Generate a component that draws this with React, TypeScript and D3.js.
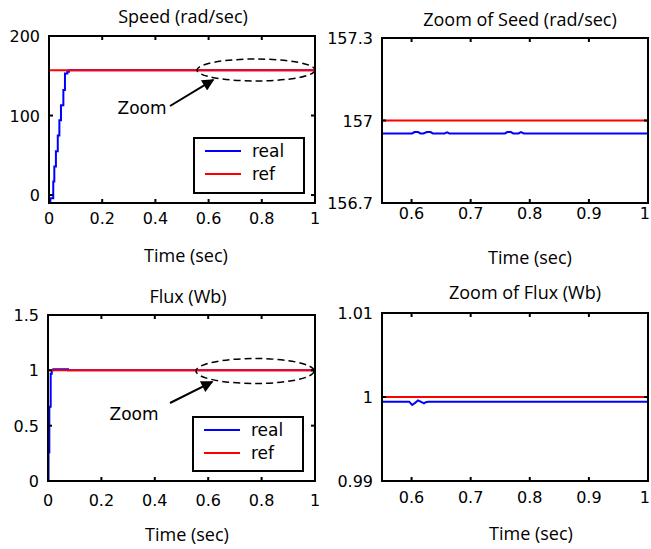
import React, { useEffect, useRef } from 'react';
import * as d3 from 'd3';

// speed (rad/sec), full run
const speedTime = [0, 0.005, 0.016, 0.02, 0.026, 0.033, 0.039, 0.045, 0.054, 0.06, 0.069, 0.075, 1];
const speedReal = [-8, -4, 17, 36, 55, 75, 94, 113, 132, 153, 155, 157, 157];
const speedRefTime = [0, 1];
const speedRef = [157, 157];

// speed, zoomed window
const zoomSpeedTime = [0.55, 0.601, 0.605, 0.611, 0.615, 0.62, 0.626, 0.632, 0.636, 0.656, 0.66, 0.664, 0.745, 0.758, 0.762, 0.768, 0.772, 0.781, 0.785, 0.79, 1];
const zoomSpeedReal = [156.953, 156.953, 156.958, 156.958, 156.953, 156.953, 156.958, 156.958, 156.953, 156.953, 156.957, 156.953, 156.953, 156.953, 156.958, 156.958, 156.953, 156.953, 156.958, 156.953, 156.953];
const zoomSpeedRefTime = [0.55, 1];
const zoomSpeedRef = [157, 157];

// flux (Wb), full run
const fluxTime = [0, 0.002, 0.005, 0.01, 0.014, 0.02, 0.075, 1];
const fluxReal = [0, 0.26, 0.67, 0.97, 1.0, 1.01, 1.0, 1.0];
const fluxRefTime = [0, 1];
const fluxRef = [1, 1];

// flux, zoomed window
const zoomFluxTime = [0.55, 0.596, 0.601, 0.606, 0.611, 0.617, 0.621, 0.624, 0.628, 1];
const zoomFluxReal = [0.99944, 0.99944, 0.99905, 0.9993, 0.9996, 0.9994, 0.99925, 0.99938, 0.99944, 0.99944];
const zoomFluxRefTime = [0.55, 1];
const zoomFluxRef = [1, 1];

const fullTicks = [0, 0.2, 0.4, 0.6, 0.8, 1];
const zoomTicks = [0.6, 0.7, 0.8, 0.9, 1];
const speedTicks = [0, 100, 200];
const zoomSpeedTicks = [156.7, 157, 157.3];
const fluxTicks = [0, 0.5, 1, 1.5];
const zoomFluxTicks = [0.99, 1, 1.01];

const legendLabels = ['real', 'ref'];
const BLUE = '#0000ff';
const RED = '#ff0000';
const TICK_FONT = '"DejaVu Sans", sans-serif';
const TITLE_FONT = '"Open Sans", sans-serif';
const W = 651;
const H = 549;

type PanelCfg = {
  left: number; top: number; width: number; height: number;
  xDomain: [number, number]; yDomain: [number, number];
  xTicks: number[]; yTicks: number[];
  title: string; titleX: number; titleY: number;
  xlabelX: number; xlabelY: number; tickLabelY: number;
  real: [number[], number[]]; ref: [number[], number[]];
  step: boolean;
  legend?: { x: number; y: number; w: number; h: number };
  zoomMark?: { cx: number; cy: number; rx: number; ry: number; ax: number; ay: number; tx: number; ty: number };
};

const panels: PanelCfg[] = [
  {
    left: 49, top: 36, width: 266, height: 167,
    xDomain: [0, 1], yDomain: [-10, 200], xTicks: fullTicks, yTicks: speedTicks,
    title: 'Speed (rad/sec)', titleX: 183, titleY: 23,
    xlabelX: 186, xlabelY: 262, tickLabelY: 224,
    real: [speedTime, speedReal], ref: [speedRefTime, speedRef], step: true,
    legend: { x: 194, y: 138, w: 110, h: 55 },
    zoomMark: { cx: 256, cy: 70, rx: 59, ry: 11, ax: 170, ay: 106, tx: 142, ty: 114 },
  },
  {
    left: 382, top: 38, width: 266, height: 165,
    xDomain: [0.55, 1], yDomain: [156.7, 157.3], xTicks: zoomTicks, yTicks: zoomSpeedTicks,
    title: 'Zoom of Seed (rad/sec)', titleX: 520, titleY: 26,
    xlabelX: 530, xlabelY: 264, tickLabelY: 219,
    real: [zoomSpeedTime, zoomSpeedReal], ref: [zoomSpeedRefTime, zoomSpeedRef], step: false,
  },
  {
    left: 48, top: 315, width: 267, height: 166,
    xDomain: [0, 1], yDomain: [0, 1.5], xTicks: fullTicks, yTicks: fluxTicks,
    title: 'Flux (Wb)', titleX: 188, titleY: 303,
    xlabelX: 187, xlabelY: 541, tickLabelY: 506,
    real: [fluxTime, fluxReal], ref: [fluxRefTime, fluxRef], step: true,
    legend: { x: 193, y: 417, w: 110, h: 54 },
    zoomMark: { cx: 255, cy: 371, rx: 59, ry: 12.5, ax: 170, ay: 403, tx: 134, ty: 420 },
  },
  {
    left: 382, top: 313, width: 266, height: 168,
    xDomain: [0.55, 1], yDomain: [0.99, 1.01], xTicks: zoomTicks, yTicks: zoomFluxTicks,
    title: 'Zoom of Flux (Wb)', titleX: 525, titleY: 299,
    xlabelX: 531, xlabelY: 540, tickLabelY: 503,
    real: [zoomFluxTime, zoomFluxReal], ref: [zoomFluxRefTime, zoomFluxRef], step: false,
  },
];

const fmt = (v: number) => String(+v.toFixed(3));

const App = () => {
  const ref = useRef<SVGSVGElement>(null);

  useEffect(() => {
    const svg = d3.select(ref.current);
    svg.selectAll('*').remove();

    svg.append('defs').append('marker')
      .attr('id', 'arrowhead')
      .attr('viewBox', '0 0 10 10')
      .attr('refX', 9).attr('refY', 5)
      .attr('markerWidth', 7).attr('markerHeight', 6)
      .attr('markerUnits', 'strokeWidth')
      .attr('orient', 'auto')
      .append('path').attr('d', 'M0,0 L10,5 L0,10 Z').attr('fill', '#000');

    panels.forEach((p, i) => {
      const x = d3.scaleLinear().domain(p.xDomain).range([p.left, p.left + p.width]);
      const y = d3.scaleLinear().domain(p.yDomain).range([p.top + p.height, p.top]);
      const g = svg.append('g');

      const clipId = `clip-${i}`;
      g.append('clipPath').attr('id', clipId)
        .append('rect').attr('x', p.left).attr('y', p.top).attr('width', p.width).attr('height', p.height);

      // data lines
      const line = d3.line<[number, number]>()
        .x((d) => x(d[0])).y((d) => y(d[1]))
        .curve(p.step ? d3.curveStepAfter : d3.curveLinear);
      const realPts = p.real[0].map((t, k) => [t, p.real[1][k]] as [number, number]);
      const refPts = p.ref[0].map((t, k) => [t, p.ref[1][k]] as [number, number]);
      const lines = g.append('g').attr('clip-path', `url(#${clipId})`);
      lines.append('path').attr('d', line(realPts)).attr('fill', 'none').attr('stroke', BLUE).attr('stroke-width', 2);
      lines.append('path').attr('d', line(refPts)).attr('fill', 'none').attr('stroke', RED).attr('stroke-width', 2);

      // box
      g.append('rect').attr('x', p.left).attr('y', p.top).attr('width', p.width).attr('height', p.height)
        .attr('fill', 'none').attr('stroke', '#000').attr('stroke-width', 2);

      // inward ticks on all sides
      const tl = 4;
      p.xTicks.forEach((t) => {
        const xx = x(t);
        g.append('line').attr('x1', xx).attr('x2', xx).attr('y1', p.top + p.height).attr('y2', p.top + p.height - tl)
          .attr('stroke', '#000').attr('stroke-width', 2);
        g.append('line').attr('x1', xx).attr('x2', xx).attr('y1', p.top).attr('y2', p.top + tl)
          .attr('stroke', '#000').attr('stroke-width', 2);
        // keep the last label inside the page edge
        const atEdge = xx + 6 > W;
        g.append('text').attr('x', atEdge ? W - 1 : xx).attr('y', p.tickLabelY)
          .attr('text-anchor', atEdge ? 'end' : 'middle')
          .attr('font-family', TICK_FONT).attr('font-size', 16).text(fmt(t));
      });
      p.yTicks.forEach((t) => {
        const yy = y(t);
        g.append('line').attr('x1', p.left).attr('x2', p.left + tl).attr('y1', yy).attr('y2', yy)
          .attr('stroke', '#000').attr('stroke-width', 2);
        g.append('line').attr('x1', p.left + p.width).attr('x2', p.left + p.width - tl).attr('y1', yy).attr('y2', yy)
          .attr('stroke', '#000').attr('stroke-width', 2);
        g.append('text').attr('x', p.left - 9).attr('y', yy + 6).attr('text-anchor', 'end')
          .attr('font-family', TICK_FONT).attr('font-size', 16).text(fmt(t));
      });

      // title and x label
      g.append('text').attr('x', p.titleX).attr('y', p.titleY).attr('text-anchor', 'middle')
        .attr('font-family', TITLE_FONT).attr('font-size', 18).text(p.title);
      g.append('text').attr('x', p.xlabelX).attr('y', p.xlabelY).attr('text-anchor', 'middle')
        .attr('font-family', TITLE_FONT).attr('font-size', 18).text('Time (sec)');

      // legend
      if (p.legend) {
        const L = p.legend;
        g.append('rect').attr('x', L.x).attr('y', L.y).attr('width', L.w).attr('height', L.h)
          .attr('fill', '#fff').attr('stroke', '#000').attr('stroke-width', 2);
        legendLabels.forEach((lab, k) => {
          const ly = L.y + 13 + k * 23;
          g.append('line').attr('x1', L.x + 11).attr('x2', L.x + 47).attr('y1', ly).attr('y2', ly)
            .attr('stroke', k === 0 ? BLUE : RED).attr('stroke-width', 2);
          g.append('text').attr('x', L.x + 58).attr('y', ly + 6)
            .attr('font-family', TICK_FONT).attr('font-size', 17).text(lab);
        });
      }

      // zoom marker
      if (p.zoomMark) {
        const z = p.zoomMark;
        g.append('ellipse').attr('cx', z.cx).attr('cy', z.cy).attr('rx', z.rx).attr('ry', z.ry)
          .attr('fill', 'none').attr('stroke', '#000').attr('stroke-width', 1.5).attr('stroke-dasharray', '7,4');
        const ex = z.cx - z.rx * Math.cos(Math.PI / 4) - 1;
        const ey = z.cy + z.ry * Math.sin(Math.PI / 4) + 2;
        g.append('line').attr('x1', z.ax).attr('y1', z.ay).attr('x2', ex).attr('y2', ey)
          .attr('stroke', '#000').attr('stroke-width', 2).attr('marker-end', 'url(#arrowhead)');
        g.append('text').attr('x', z.tx).attr('y', z.ty).attr('text-anchor', 'middle')
          .attr('font-family', TICK_FONT).attr('font-size', 17).text('Zoom');
      }
    });
  }, []);

  return (
    <svg ref={ref} width={W} height={H}
      style={{ position: 'absolute', left: 0, top: 0, background: '#fff' }} />
  );
};

export default App;
